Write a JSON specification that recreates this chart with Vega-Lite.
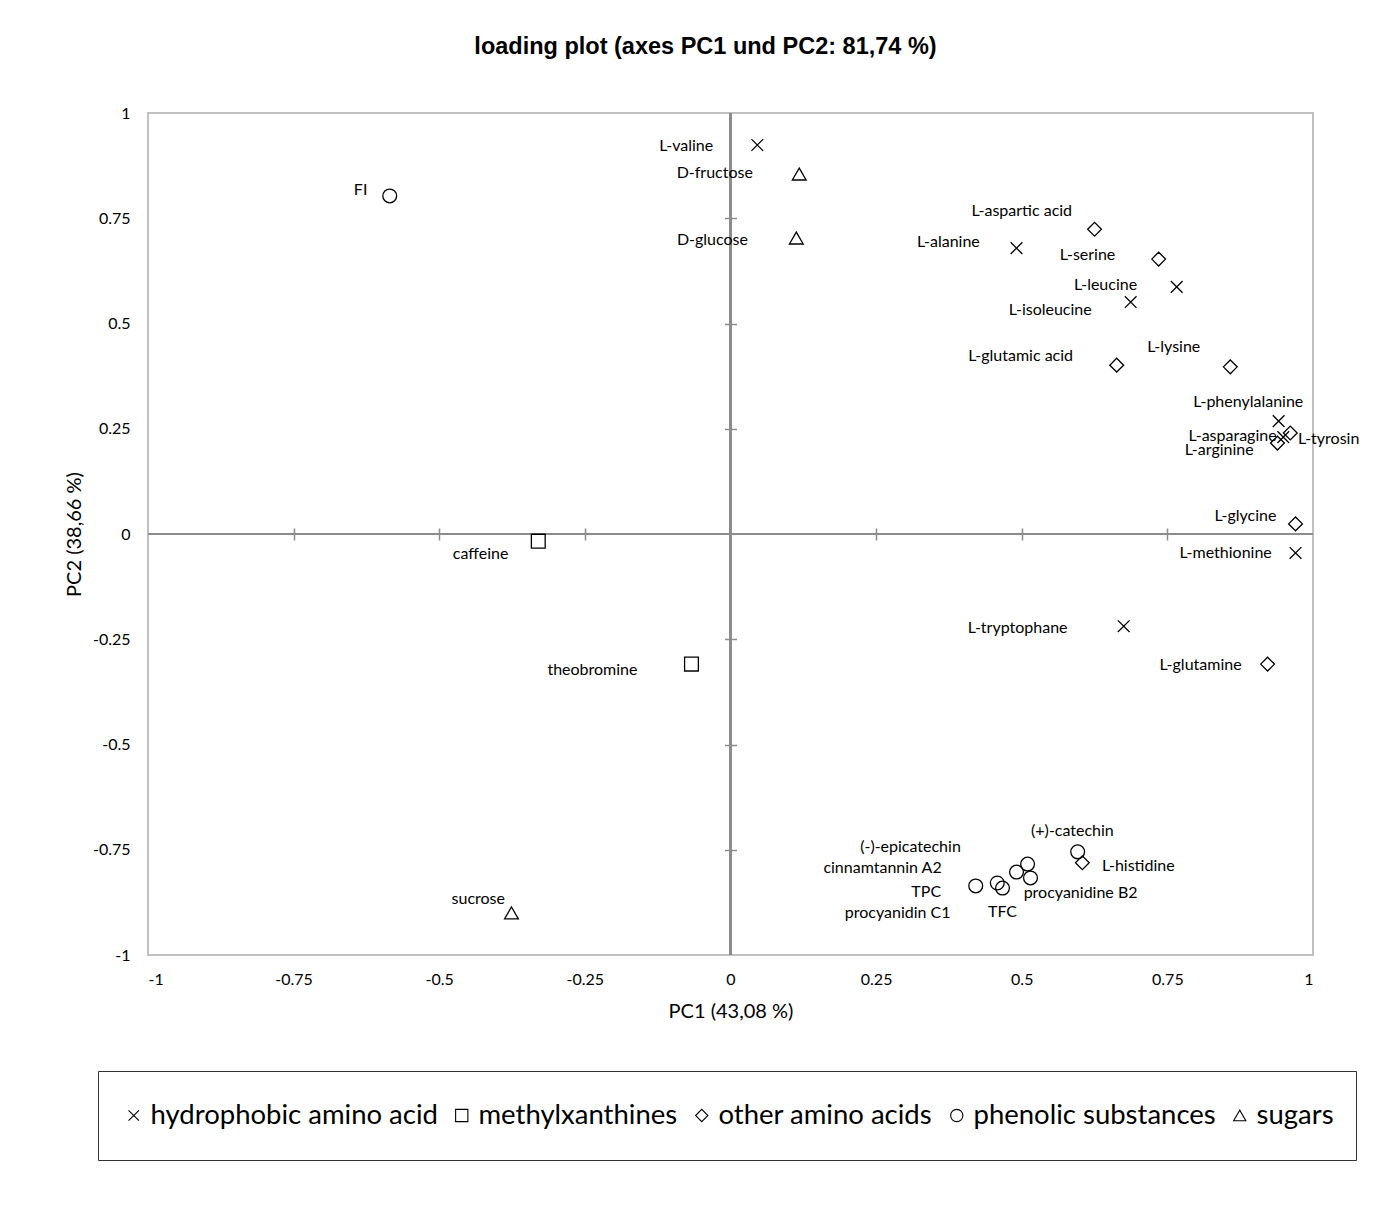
{
  "$schema": "https://vega.github.io/schema/vega-lite/v6.json",
  "width": 1165,
  "height": 842,
  "autosize": {"type": "none"},
  "padding": {"left": 148, "top": 113, "right": 67, "bottom": 257},
  "background": "white",
  "title": {
    "text": "loading plot (axes PC1 und PC2: 81,74 %)",
    "font": "Liberation Sans",
    "fontSize": 23.5,
    "fontWeight": "bold",
    "color": "black",
    "anchor": "middle",
    "frame": "group",
    "dx": -25,
    "offset": 47
  },
  "config": {
    "view": {"stroke": "#c0c0c0", "strokeWidth": 2},
    "axis": {"labelFont": "Lato", "titleFont": "Lato", "labelColor": "black", "titleColor": "black"}
  },
  "data": {
    "values": [
      {"label": "FI", "group": "phenolic substances", "x": -0.585, "y": 0.803, "lx": -0.635, "ly": 0.817},
      {"label": "L-valine", "group": "hydrophobic amino acid", "x": 0.046, "y": 0.924, "lx": -0.076, "ly": 0.922},
      {"label": "D-fructose", "group": "sugars", "x": 0.118, "y": 0.855, "lx": -0.027, "ly": 0.857},
      {"label": "D-glucose", "group": "sugars", "x": 0.113, "y": 0.703, "lx": -0.031, "ly": 0.698},
      {"label": "L-aspartic acid", "group": "other amino acids", "x": 0.625, "y": 0.724, "lx": 0.5, "ly": 0.767},
      {"label": "L-alanine", "group": "hydrophobic amino acid", "x": 0.491, "y": 0.679, "lx": 0.374, "ly": 0.694},
      {"label": "L-serine", "group": "other amino acids", "x": 0.735, "y": 0.653, "lx": 0.613, "ly": 0.663},
      {"label": "L-leucine", "group": "hydrophobic amino acid", "x": 0.766, "y": 0.587, "lx": 0.644, "ly": 0.591},
      {"label": "L-isoleucine", "group": "hydrophobic amino acid", "x": 0.687, "y": 0.551, "lx": 0.549, "ly": 0.532},
      {"label": "L-glutamic acid", "group": "other amino acids", "x": 0.663, "y": 0.401, "lx": 0.498, "ly": 0.423},
      {"label": "L-lysine", "group": "other amino acids", "x": 0.858, "y": 0.397, "lx": 0.761, "ly": 0.444},
      {"label": "L-phenylalanine", "group": "hydrophobic amino acid", "x": 0.941, "y": 0.268, "lx": 0.889, "ly": 0.314},
      {"label": "L-tyrosin", "group": "hydrophobic amino acid", "x": 0.949, "y": 0.23, "lx": 1.027, "ly": 0.226},
      {"label": "L-asparagine", "group": "other amino acids", "x": 0.961, "y": 0.24, "lx": 0.862, "ly": 0.233},
      {"label": "L-arginine", "group": "other amino acids", "x": 0.939, "y": 0.216, "lx": 0.839, "ly": 0.2},
      {"label": "L-glycine", "group": "other amino acids", "x": 0.97, "y": 0.024, "lx": 0.884, "ly": 0.043},
      {"label": "L-methionine", "group": "hydrophobic amino acid", "x": 0.97, "y": -0.045, "lx": 0.85, "ly": -0.045},
      {"label": "L-tryptophane", "group": "hydrophobic amino acid", "x": 0.675, "y": -0.219, "lx": 0.493, "ly": -0.223},
      {"label": "L-glutamine", "group": "other amino acids", "x": 0.922, "y": -0.309, "lx": 0.807, "ly": -0.311},
      {"label": "caffeine", "group": "methylxanthines", "x": -0.33, "y": -0.017, "lx": -0.429, "ly": -0.048},
      {"label": "theobromine", "group": "methylxanthines", "x": -0.067, "y": -0.309, "lx": -0.237, "ly": -0.323},
      {"label": "sucrose", "group": "sugars", "x": -0.376, "y": -0.9, "lx": -0.433, "ly": -0.867},
      {"label": "(+)-catechin", "group": "phenolic substances", "x": 0.596, "y": -0.755, "lx": 0.587, "ly": -0.705},
      {"label": "L-histidine", "group": "other amino acids", "x": 0.604, "y": -0.781, "lx": 0.7, "ly": -0.789},
      {"label": "(-)-epicatechin", "group": "phenolic substances", "x": 0.51, "y": -0.784, "lx": 0.309, "ly": -0.743},
      {"label": "cinnamtannin A2", "group": "phenolic substances", "x": 0.491, "y": -0.803, "lx": 0.261, "ly": -0.793},
      {"label": "TPC", "group": "phenolic substances", "x": 0.421, "y": -0.836, "lx": 0.336, "ly": -0.85},
      {"label": "procyanidin C1", "group": "phenolic substances", "x": 0.458, "y": -0.829, "lx": 0.287, "ly": -0.9},
      {"label": "TFC", "group": "phenolic substances", "x": 0.467, "y": -0.841, "lx": 0.467, "ly": -0.898},
      {"label": "procyanidine B2", "group": "phenolic substances", "x": 0.515, "y": -0.817, "lx": 0.601, "ly": -0.853}
    ]
  },
  "layer": [
    {
      "mark": {"type": "rule", "color": "#8c8c8c", "strokeWidth": 1.5},
      "encoding": {"x": {"datum": 0, "type": "quantitative", "axis": null}}
    },
    {
      "mark": {"type": "rule", "color": "#8c8c8c", "strokeWidth": 1.5},
      "encoding": {"y": {"datum": 0, "type": "quantitative", "axis": null}}
    },
    {
      "mark": {"type": "point", "filled": false, "stroke": "black", "strokeWidth": 1.3, "size": 190, "opacity": 1},
      "encoding": {
        "x": {
          "field": "x", "type": "quantitative",
          "scale": {"domain": [-1, 1], "nice": false, "zero": false},
          "axis": {
            "orient": "bottom", "title": "PC1 (43,08 %)", "values": [-1, -0.75, -0.5, -0.25, 0, 0.25, 0.5, 0.75, 1],
            "labelExpr": "'' + datum.value", "domain": false, "ticks": false, "grid": false,
            "labelFontSize": 16, "labelPadding": 16, "titleFontSize": 20, "titleFontWeight": "normal", "titlePadding": 14
          }
        },
        "y": {
          "field": "y", "type": "quantitative",
          "scale": {"domain": [-1, 1], "nice": false, "zero": false},
          "axis": {
            "orient": "left", "title": "PC2 (38,66 %)", "values": [-1, -0.75, -0.5, -0.25, 0, 0.25, 0.5, 0.75, 1],
            "labelExpr": "'' + datum.value", "domain": false, "ticks": false, "grid": false,
            "labelFontSize": 16, "labelPadding": 18, "titleFontSize": 20, "titleFontWeight": "normal", "titlePadding": 8
          }
        },
        "shape": {
          "field": "group", "type": "nominal",
          "scale": {
            "domain": ["hydrophobic amino acid", "methylxanthines", "other amino acids", "phenolic substances", "sugars"],
            "range": ["M-0.85,-0.85L0.85,0.85M-0.85,0.85L0.85,-0.85", "square", "diamond", "circle", "triangle-up"]
          },
          "legend": {
            "title": null, "orient": "none", "legendX": -50, "legendY": 958, "direction": "horizontal",
            "labelFont": "Lato", "labelFontSize": 27.5, "labelColor": "black", "labelOffset": 3, "labelLimit": 500,
            "symbolSize": 150, "symbolStrokeColor": "black", "symbolStrokeWidth": 1.1, "symbolFillColor": "white",
            "columnPadding": 10, "padding": 22, "clipHeight": 45, "strokeColor": "#333333", "fillColor": "white"
          }
        }
      }
    },
    {
      "mark": {"type": "text", "font": "Lato", "fontSize": 16, "color": "black", "align": "center", "baseline": "middle"},
      "encoding": {
        "x": {
          "field": "lx", "type": "quantitative",
          "axis": {
            "orient": "bottom", "offset": -427, "values": [-0.75, -0.5, -0.25, 0.25, 0.5, 0.75],
            "labels": false, "domain": false, "grid": false, "title": null,
            "ticks": true, "tickSize": 12, "tickColor": "#8c8c8c", "tickWidth": 1.5
          }
        },
        "y": {
          "field": "ly", "type": "quantitative",
          "axis": {
            "orient": "left", "offset": -588.5, "values": [-0.75, -0.5, -0.25, 0.25, 0.5, 0.75],
            "labels": false, "domain": false, "grid": false, "title": null,
            "ticks": true, "tickSize": 12, "tickColor": "#8c8c8c", "tickWidth": 1.5
          }
        },
        "text": {"field": "label", "type": "nominal"}
      }
    }
  ],
  "resolve": {"axis": {"x": "independent", "y": "independent"}}
}
